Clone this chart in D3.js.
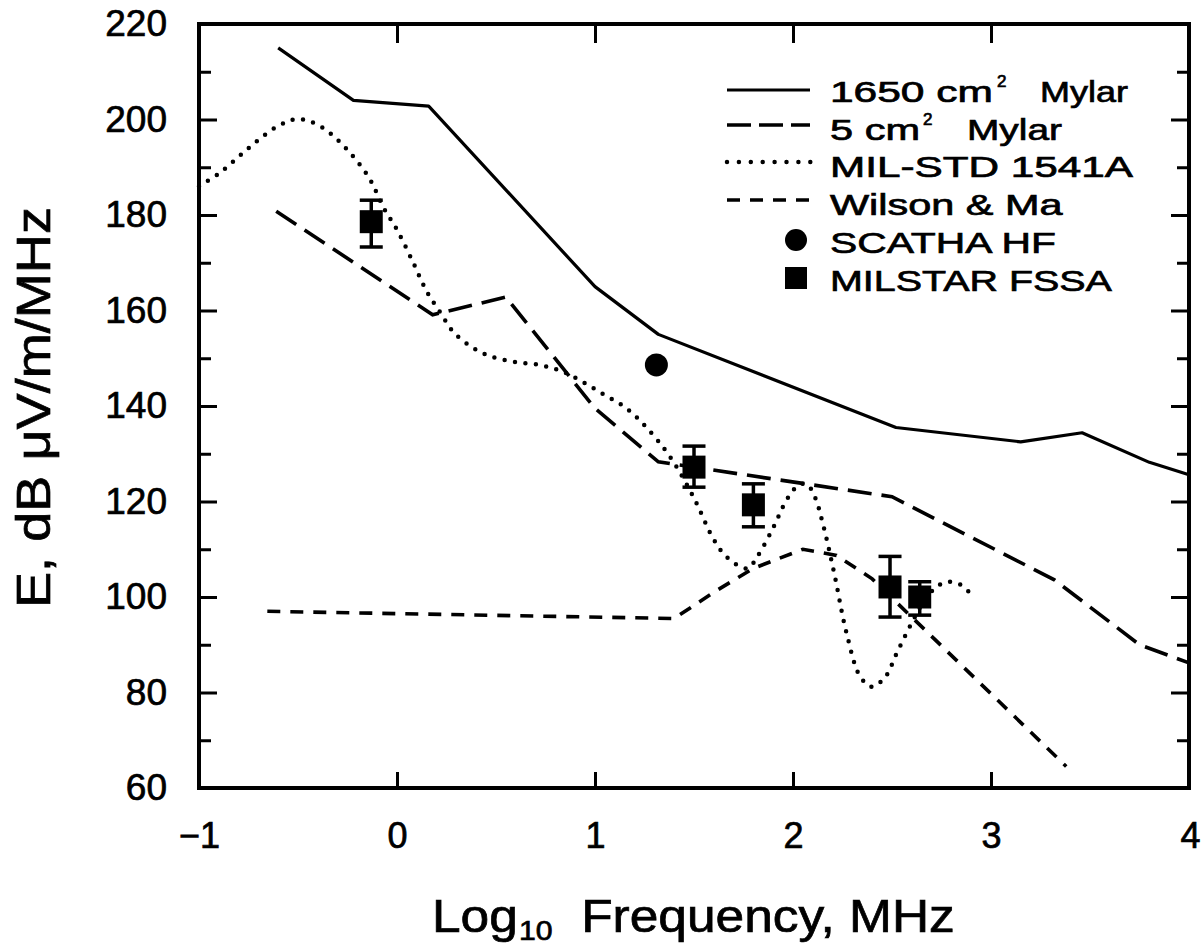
<!DOCTYPE html>
<html><head><meta charset="utf-8">
<script src="https://cdn.jsdelivr.net/npm/d3@7"></script>
<style>body{margin:0;background:#fff} svg{display:block;background:#fff}</style>
</head><body>
<svg id="c" width="1202" height="947"></svg>
<script>
// ---- data ----
const mylar1650X = [-0.60, -0.22, 0.16, 1.00, 1.32, 2.52, 3.15, 3.46, 3.80, 4.00];
const mylar1650Y = [215.0, 204.0, 202.8, 165.0, 155.0, 135.5, 132.5, 134.4, 128.2, 125.6];

const mylar5X = [-0.61, 0.18, 0.55, 1.00, 1.32, 2.50, 3.32, 3.75, 4.00];
const mylar5Y = [180.8, 159.1, 162.8, 139.5, 128.3, 121.0, 103.6, 90.0, 86.2];

const milStdX = [-1.00, -0.89, -0.75, -0.61, -0.50, -0.38, -0.25, -0.14, -0.07, 0.00, 0.08, 0.15, 0.22, 0.285, 0.38, 0.48, 0.60, 0.72, 0.83, 0.94, 1.045, 1.15, 1.26, 1.38, 1.50, 1.60, 1.67, 1.77, 1.82, 1.90, 1.97, 2.03, 2.07, 2.11, 2.15, 2.21, 2.27, 2.34, 2.40, 2.47, 2.52, 2.60, 2.66, 2.73, 2.79, 2.85, 2.89];
const milStdY = [186.0, 189.0, 194.0, 198.4, 200.1, 198.4, 193.6, 187.7, 181.7, 176.9, 170.2, 164.0, 159.5, 155.5, 152.3, 150.3, 149.2, 148.6, 147.3, 145.0, 142.4, 139.8, 135.5, 129.3, 120.7, 112.0, 108.2, 106.0, 108.5, 114.5, 120.5, 123.5, 123.6, 121.0, 115.5, 104.6, 92.5, 83.3, 81.2, 83.5, 87.9, 94.6, 99.0, 102.3, 103.2, 102.5, 101.0];

const wilsonX = [-0.655, 1.40, 1.60, 1.80, 2.05, 2.22, 2.40, 3.38];
const wilsonY = [97.0, 95.5, 101.0, 106.0, 110.0, 108.7, 103.8, 64.5];

const scathaX = [1.31];
const scathaY = [148.6];

const milstarX  = [-0.13, 1.50, 1.80, 2.49, 2.64];
const milstarY  = [178.6, 127.2, 119.3, 102.1, 100.0];
const milstarLo = [173.3, 123.0, 114.7, 95.8, 96.2];
const milstarHi = [183.1, 131.6, 123.7, 108.5, 103.2];

const xTicks = [-1, 0, 1, 2, 3, 4];
const xInnerTicks = [0, 1, 2, 3];
const yTicks = [60, 70, 80, 90, 100, 110, 120, 130, 140, 150, 160, 170, 180, 190, 200, 210, 220];
const yLabels = [60, 80, 100, 120, 140, 160, 180, 200, 220];

const legendNames = ["1650 cm\u00b2 Mylar", "5 cm\u00b2 Mylar", "MIL-STD 1541A", "Wilson & Ma", "SCATHA HF", "MILSTAR FSSA"];

// ---- drawing ----
const FONT = "'Liberation Sans', Arial, Helvetica, sans-serif";
const svg = d3.select("#c");
const x = d3.scaleLinear().domain([-1, 4]).range([199, 1189]);
const y = d3.scaleLinear().domain([60, 220]).range([788, 24]);

function styleText(sel) {
  sel.attr("font-family", FONT).attr("fill", "#000").attr("stroke", "#000").attr("stroke-width", 0.7);
}
function fitW(sel, target) {
  const w = sel.node().getBBox().width;
  sel.attr("transform", `scale(${target / w},1)`);
}

const line = d3.line().x(d => x(d[0])).y(d => y(d[1]));
const zip = (a, b) => a.map((v, i) => [v, b[i]]);

// series lines
const gLines = svg.append("g").attr("fill", "none").attr("stroke", "#000");
gLines.append("path").datum(zip(mylar1650X, mylar1650Y))
  .attr("d", line).attr("stroke-width", 3.2).attr("stroke-linejoin", "round");
gLines.append("path").datum(zip(mylar5X, mylar5Y))
  .attr("d", line).attr("stroke-width", 3.6).attr("stroke-dasharray", "24,10");
gLines.append("path").datum(zip(wilsonX, wilsonY))
  .attr("d", line).attr("stroke-width", 3.6).attr("stroke-dasharray", "13,10");
gLines.append("path").datum(zip(milStdX, milStdY))
  .attr("d", line.curve(d3.curveCatmullRom)).attr("stroke-width", 4.5)
  .attr("stroke-linecap", "round").attr("stroke-dasharray", "0,10.5");

// markers
const gM = svg.append("g");
gM.append("g").selectAll("circle").data(zip(scathaX, scathaY)).join("circle")
  .attr("cx", d => x(d[0])).attr("cy", d => y(d[1])).attr("r", 11.5).attr("fill", "#000");
const ms = milstarX.map((v, i) => ({x: v, y: milstarY[i], lo: milstarLo[i], hi: milstarHi[i]}));
const eb = gM.append("g").attr("stroke", "#000").attr("stroke-width", 3.5);
eb.selectAll(".v").data(ms).join("line")
  .attr("x1", d => x(d.x)).attr("x2", d => x(d.x)).attr("y1", d => y(d.lo)).attr("y2", d => y(d.hi));
eb.selectAll(".lo").data(ms).join("line")
  .attr("x1", d => x(d.x) - 11.5).attr("x2", d => x(d.x) + 11.5).attr("y1", d => y(d.lo)).attr("y2", d => y(d.lo));
eb.selectAll(".hi").data(ms).join("line")
  .attr("x1", d => x(d.x) - 11.5).attr("x2", d => x(d.x) + 11.5).attr("y1", d => y(d.hi)).attr("y2", d => y(d.hi));
gM.append("g").selectAll("rect").data(ms).join("rect")
  .attr("x", d => x(d.x) - 11.5).attr("y", d => y(d.y) - 11.5).attr("width", 23).attr("height", 23).attr("fill", "#000");

// axes
function styleAxis(g) {
  g.select(".domain").remove();
  g.selectAll(".tick line").attr("stroke", "#000").attr("stroke-width", 3);
  g.attr("font-size", null).attr("font-family", null);
}
const gB = svg.append("g").attr("transform", "translate(0,788)")
  .call(d3.axisBottom(x).tickValues(xTicks).tickSize(-16).tickSizeOuter(0).tickPadding(34)
    .tickFormat(d3.format("d")));
styleAxis(gB);
gB.selectAll(".tick text").attr("font-size", 36).call(styleText);
gB.selectAll(".tick").filter(d => d === 4).select("text").attr("text-anchor", "end").attr("dx", 11);

const gT = svg.append("g").attr("transform", "translate(0,24)")
  .call(d3.axisTop(x).tickValues(xInnerTicks).tickSize(-19).tickSizeOuter(0).tickFormat(""));
styleAxis(gT);

const gL = svg.append("g").attr("transform", "translate(199,0)")
  .call(d3.axisLeft(y).tickValues(yTicks).tickSize(-18).tickSizeOuter(0).tickPadding(32)
    .tickFormat(d => yLabels.includes(d) ? d : ""));
styleAxis(gL);
gL.selectAll(".tick line").filter(d => !yLabels.includes(d)).attr("x2", 12);
gL.selectAll(".tick text").attr("font-size", 37).call(styleText);

const gR = svg.append("g").attr("transform", "translate(1189,0)")
  .call(d3.axisRight(y).tickValues(yTicks).tickSize(-18).tickSizeOuter(0).tickFormat(""));
styleAxis(gR);
gR.selectAll(".tick line").filter(d => !yLabels.includes(d)).attr("x2", -12);

// frame
svg.append("rect").attr("x", 199).attr("y", 24).attr("width", 990).attr("height", 764)
  .attr("fill", "none").attr("stroke", "#000").attr("stroke-width", 4);

// axis titles
const yt = svg.append("g").attr("transform", "translate(50,407.5) rotate(-90)")
  .append("text").attr("text-anchor", "middle").attr("font-size", 47.5)
  .text("E, dB \u03bcV/m/MHz").call(styleText);
fitW(yt, 401);

const xt = svg.append("g").attr("transform", "translate(432,932)")
  .append("text").attr("font-size", 46).call(styleText);
xt.append("tspan").text("Log");
xt.append("tspan").attr("font-size", 27).attr("dy", 8).attr("dx", 1).text("10");
xt.append("tspan").attr("dy", -8).text("\u00a0 Frequency, MHz");
fitW(xt, 523);

// legend
const legY = [90, 125, 162, 200, 240, 278];
const legBase = [102, 140, 177, 215, 253, 291];
const legW = [298, 232, 303, 233, 226, 282];
// layout of labels with a superscript: [first part x,width], superscript x, [last part x,width]
const supLayout = {
  0: {a: [830, 163], s: 997, b: [1040, 88]},
  1: {a: [830, 90], s: 923, b: [967, 95]}
};
const gLeg = svg.append("g");
const lg = gLeg.append("g").attr("fill", "none").attr("stroke", "#000");
lg.append("line").attr("x1", 727).attr("x2", 810).attr("y1", legY[0]).attr("y2", legY[0]).attr("stroke-width", 3.2);
lg.append("line").attr("x1", 727).attr("x2", 810).attr("y1", legY[1]).attr("y2", legY[1]).attr("stroke-width", 3.6).attr("stroke-dasharray", "24,8");
lg.append("line").attr("x1", 727).attr("x2", 811).attr("y1", legY[2]).attr("y2", legY[2]).attr("stroke-width", 4.5).attr("stroke-linecap", "round").attr("stroke-dasharray", "0,11.9");
lg.append("line").attr("x1", 727).attr("x2", 810).attr("y1", legY[3]).attr("y2", legY[3]).attr("stroke-width", 3.6).attr("stroke-dasharray", "13,10");
gLeg.append("circle").attr("cx", 796).attr("cy", legY[4]).attr("r", 11).attr("fill", "#000");
gLeg.append("rect").attr("x", 785).attr("y", legY[5] - 11).attr("width", 22).attr("height", 22).attr("fill", "#000");

function legText(str, x0, base, w, size) {
  const t = gLeg.append("g").attr("transform", `translate(${x0},${base})`)
    .append("text").attr("font-size", size).text(str).call(styleText);
  if (w) fitW(t, w);
  return t;
}
legendNames.forEach((name, i) => {
  const parts = name.split("\u00b2");
  if (parts.length > 1) {
    const L = supLayout[i];
    legText(parts[0], L.a[0], legBase[i], L.a[1], 30);
    legText("2", L.s, legBase[i] - 15, null, 17);
    legText(parts[1].trim(), L.b[0], legBase[i], L.b[1], 30);
  } else {
    legText(name, 830, legBase[i], legW[i], 30);
  }
});
</script>
</body></html>
